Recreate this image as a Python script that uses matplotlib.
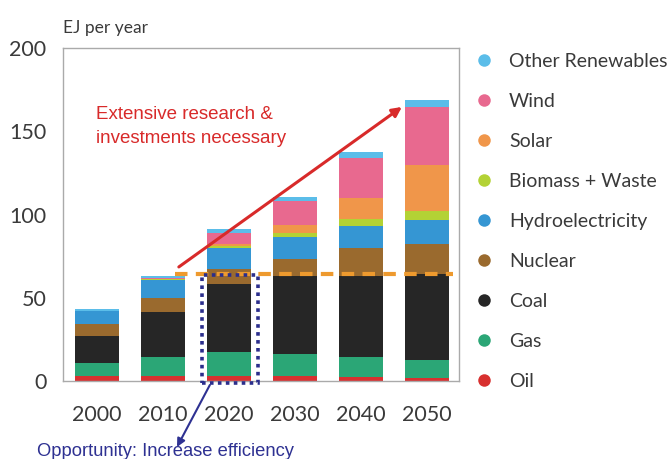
import matplotlib
matplotlib.use("Agg")
import matplotlib.pyplot as plt
from matplotlib.lines import Line2D
from matplotlib.patches import Rectangle
import numpy as np

years = ["2000", "2010", "2020", "2030", "2040", "2050"]
series_names = ["Oil", "Gas", "Coal", "Nuclear", "Hydroelectricity",
                "Biomass + Waste", "Solar", "Wind", "Other Renewables"]
oil = [3, 3, 3, 3, 2.5, 2]
gas = [7.6, 11.2, 14.4, 13, 12.2, 10.4]
coal = [16.4, 27, 40.6, 47, 48.4, 51.6]
nuclear = [7, 8.4, 9.4, 10, 16.6, 18.4]
hydro = [8, 11, 12.6, 13.6, 13.4, 14.2]
biomass = [0, 0.5, 1, 2.4, 4, 5.8]
solar = [0, 0, 1, 4.6, 13, 27.6]
wind = [0, 1, 6.6, 14.4, 24, 34.4]
other = [1, 1, 2.4, 2.6, 3.4, 4.2]
series = [oil, gas, coal, nuclear, hydro, biomass, solar, wind, other]
colors = ["#D8302F", "#2BA676", "#262626", "#9A6A2E", "#3596D3",
          "#B3D235", "#F0964A", "#E8698F", "#5BBDE9"]
yticks = [0, 50, 100, 150, 200]
threshold = 64

fig = plt.figure(figsize=(6.67, 4.59), dpi=100)
ax = fig.add_axes([63/667, 78/459, (459-63)/667, (381-48)/459])

x = np.arange(len(years))
bottom = np.zeros(len(years))
for vals, c in zip(series, colors):
    ax.bar(x, vals, bottom=bottom, width=0.675, color=c, edgecolor="none", zorder=2)
    bottom += np.array(vals)

ax.set_xlim(-0.515, 5.485)
ax.set_ylim(0, 200)
ax.set_yticks(yticks)
ax.set_xticks(x)
ax.set_xticklabels(years)
ax.tick_params(axis="both", length=0, labelsize=15.5, colors="#3a3a3a")
ax.tick_params(axis="x", pad=17)
ax.tick_params(axis="y", pad=12)
for lab in ax.get_xticklabels() + ax.get_yticklabels():
    lab.set_fontfamily("Lato")
for s in ax.spines.values():
    s.set_color("#aaaaaa")
    s.set_linewidth(1.0)

# orange dashed threshold line
ax.plot([1.18, 5.4], [threshold, threshold], color="#EE9A2E", lw=3,
        dashes=(3, 2), zorder=3)

# red arrow
ax.annotate("", xy=(4.62, 164.6), xytext=(1.24, 68.5),
            arrowprops=dict(arrowstyle="-|>", color="#D82A2A", lw=2.2,
                            mutation_scale=14, shrinkA=0, shrinkB=0), zorder=4)
ax.text(-0.015, 153, "Extensive research &\ninvestments necessary",
        color="#D82A2A", fontsize=13.5, family="Liberation Sans",
        va="center", ha="left", linespacing=1.5)

# blue dotted rectangle
rect = Rectangle((1.586, -1.2), 2.444-1.586, 64.9, fill=False,
                 edgecolor="#2B2E8C", lw=2.6, linestyle=(0, (1, 1.2)),
                 zorder=5, clip_on=False)
ax.add_patch(rect)

# blue arrow to text
ax.annotate("", xy=(177/667, 1-447/459), xycoords="figure fraction",
            xytext=(1.71, -2.4), textcoords="data",
            arrowprops=dict(arrowstyle="-|>", color="#2E3192", lw=1.5,
                            mutation_scale=12, shrinkA=0, shrinkB=0),
            annotation_clip=False)
fig.text(37/667, 1-451/459, "Opportunity: Increase efficiency",
         color="#2E3192", fontsize=13.2, family="Liberation Sans",
         va="center", ha="left")

fig.text(63/667, 1-28/459, "EJ per year", fontsize=12.5, family="Lato",
         color="#3a3a3a", va="center", ha="left")

handles = [Line2D([], [], marker="o", linestyle="none", markersize=9,
                  markerfacecolor=c, markeredgecolor="none")
           for c in colors[::-1]]
leg = ax.legend(handles, series_names[::-1], loc="upper left",
                bbox_to_anchor=(474/667, 1-53/459),
                bbox_transform=fig.transFigure, frameon=False,
                handlelength=1.0, handletextpad=0.8, borderpad=0,
                borderaxespad=0, labelspacing=1.18,
                prop={"family": "Lato", "size": 14})
for t in leg.get_texts():
    t.set_color("#3a3a3a")

fig.savefig("out.png", dpi=100)
